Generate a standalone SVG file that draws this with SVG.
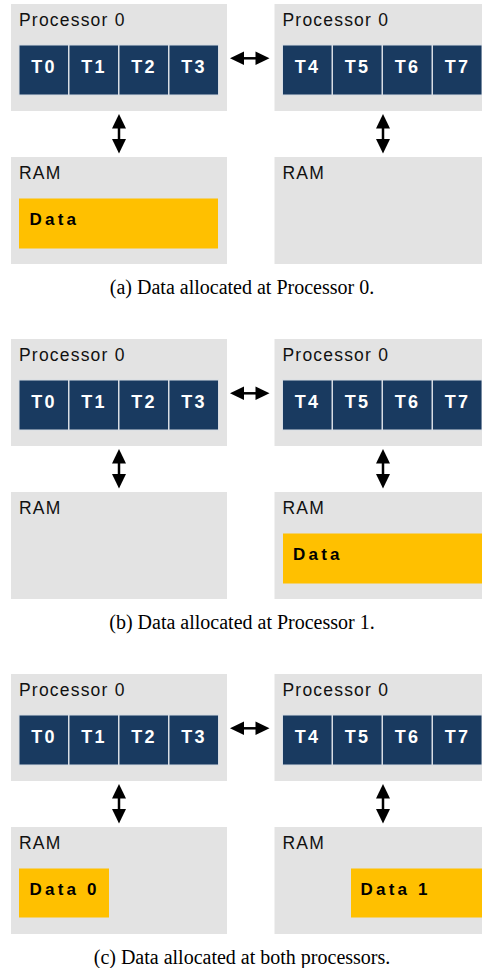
<svg xmlns="http://www.w3.org/2000/svg" width="482" height="968" viewBox="0 0 482 968">
  <style>
    .box { fill: #e3e3e3; }
    .tile { fill: #193a60; stroke: #d8dde4; stroke-width: 1; }
    .data { fill: #ffc000; }
    .label { font-family: "Liberation Sans", Arial, sans-serif; font-size: 17.5px; letter-spacing: 1.2px; fill: #111; }
    .tid { font-family: "Liberation Sans", Arial, sans-serif; font-size: 18px; font-weight: bold; letter-spacing: 2.3px; fill: #fff; text-anchor: middle; }
    .dtext { font-family: "Liberation Sans", Arial, sans-serif; font-size: 17px; font-weight: bold; letter-spacing: 3.2px; fill: #000; }
    .cap { font-family: "Liberation Serif", "Times New Roman", serif; font-size: 20px; fill: #000; text-anchor: middle; }
    .shaft { stroke: #000; stroke-width: 2.5; fill: none; }
    .head { fill: #000; }
  </style>
  <defs>
    <!-- processor box with its title; origin at the box's top-left -->
    <g id="procTiles">
      <rect class="box" x="0" y="0" width="216" height="107"/>
      <text class="label" x="8" y="22">Processor 0</text>
    </g>
    <!-- double-headed vertical link between a processor and its RAM -->
    <g id="vlink">
      <line class="shaft" x1="0" y1="126" x2="0" y2="141"/>
      <path class="head" d="M0,114 L7,128.5 L-7,128.5 Z"/>
      <path class="head" d="M0,153.5 L7,139 L-7,139 Z"/>
    </g>
    <!-- double-headed horizontal link between the two processors -->
    <g id="hlink">
      <line class="shaft" x1="241" y1="58.3" x2="258" y2="58.3"/>
      <path class="head" d="M230,58.3 L244,51.5 L244,65 Z"/>
      <path class="head" d="M269.5,58.3 L255.5,51.5 L255.5,65 Z"/>
    </g>
    <g id="threadsLeft">
      <rect class="tile" x="19" y="45" width="49.5" height="50"/>
      <rect class="tile" x="69" y="45" width="49.5" height="50"/>
      <rect class="tile" x="119" y="45" width="49.5" height="50"/>
      <rect class="tile" x="169" y="45" width="49.5" height="50"/>
      <text class="tid" x="44" y="72.8">T0</text>
      <text class="tid" x="94" y="72.8">T1</text>
      <text class="tid" x="144" y="72.8">T2</text>
      <text class="tid" x="194" y="72.8">T3</text>
    </g>
    <g id="threadsRight">
      <rect class="tile" x="282.5" y="45" width="49.5" height="50"/>
      <rect class="tile" x="332.5" y="45" width="49.5" height="50"/>
      <rect class="tile" x="382.5" y="45" width="49.5" height="50"/>
      <rect class="tile" x="432.5" y="45" width="49.5" height="50"/>
      <text class="tid" x="307.5" y="72.8">T4</text>
      <text class="tid" x="357.5" y="72.8">T5</text>
      <text class="tid" x="407.5" y="72.8">T6</text>
      <text class="tid" x="457.5" y="72.8">T7</text>
    </g>
    <g id="ram">
      <rect class="box" x="0" y="0" width="216" height="107"/>
      <text class="label" x="8" y="21.5" letter-spacing="0.3">RAM</text>
    </g>
  </defs>

  <!-- (a) -->
  <g id="a-proc0">
    <use href="#procTiles" x="11" y="4"/>
    <use href="#threadsLeft"/>
  </g>
  <g id="a-proc1">
    <use href="#procTiles" x="274.5" y="4"/>
    <use href="#threadsRight"/>
  </g>
  <g id="a-ram0">
    <use href="#ram" x="11" y="157"/>
    <rect class="data" x="19" y="198.5" width="199" height="50"/>
    <text class="dtext" x="29.5" y="225">Data</text>
  </g>
  <g id="a-ram1">
    <use href="#ram" x="274.5" y="157"/>
  </g>
  <g id="a-links">
    <use href="#hlink"/>
    <use href="#vlink" x="119"/>
    <use href="#vlink" x="383"/>
  </g>
  <text class="cap" x="242" y="294">(a) Data allocated at Processor 0.</text>

  <!-- (b) -->
  <g id="b-proc0">
    <use href="#procTiles" x="11" y="339"/>
    <use href="#threadsLeft" y="335"/>
  </g>
  <g id="b-proc1">
    <use href="#procTiles" x="274.5" y="339"/>
    <use href="#threadsRight" y="335"/>
  </g>
  <g id="b-ram0">
    <use href="#ram" x="11" y="492"/>
  </g>
  <g id="b-ram1">
    <use href="#ram" x="274.5" y="492"/>
    <rect class="data" x="283" y="533.5" width="199" height="50"/>
    <text class="dtext" x="293" y="560">Data</text>
  </g>
  <g id="b-links" transform="translate(0,335)">
    <use href="#hlink"/>
    <use href="#vlink" x="119"/>
    <use href="#vlink" x="383"/>
  </g>
  <text class="cap" x="242" y="629">(b) Data allocated at Processor 1.</text>

  <!-- (c) -->
  <g id="c-proc0">
    <use href="#procTiles" x="11" y="674"/>
    <use href="#threadsLeft" y="670"/>
  </g>
  <g id="c-proc1">
    <use href="#procTiles" x="274.5" y="674"/>
    <use href="#threadsRight" y="670"/>
  </g>
  <g id="c-ram0">
    <use href="#ram" x="11" y="827"/>
    <rect class="data" x="19" y="868.5" width="90" height="49"/>
    <text class="dtext" x="29.5" y="895">Data 0</text>
  </g>
  <g id="c-ram1">
    <use href="#ram" x="274.5" y="827"/>
    <rect class="data" x="351" y="868.5" width="131" height="49"/>
    <text class="dtext" x="360.5" y="895">Data 1</text>
  </g>
  <g id="c-links" transform="translate(0,670)">
    <use href="#hlink"/>
    <use href="#vlink" x="119"/>
    <use href="#vlink" x="383"/>
  </g>
  <text class="cap" x="242" y="964">(c) Data allocated at both processors.</text>
</svg>
